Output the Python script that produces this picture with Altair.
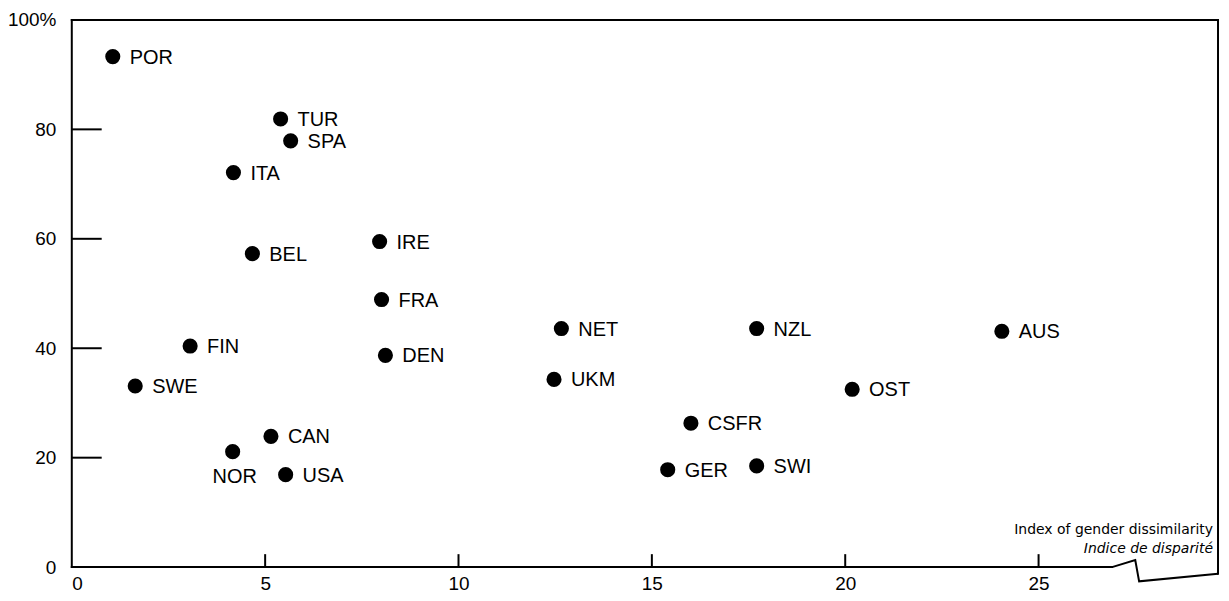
import altair as alt
import pandas as pd

countries = ["POR", "TUR", "SPA", "ITA", "BEL", "IRE", "FRA", "DEN", "NET", "UKM",
             "NZL", "AUS", "OST", "CSFR", "GER", "SWI", "FIN", "SWE", "CAN", "NOR", "USA"]
dissimilarity = [1.06, 5.40, 5.66, 4.18, 4.67, 7.96, 8.01, 8.11, 12.66, 12.47,
                 17.71, 24.05, 20.18, 16.01, 15.41, 17.71, 3.06, 1.64, 5.15, 4.16, 5.53]
share = [93.3, 81.9, 77.9, 72.1, 57.3, 59.5, 48.9, 38.7, 43.6, 34.3,
         43.6, 43.1, 32.5, 26.3, 17.8, 18.5, 40.4, 33.1, 23.9, 21.1, 16.9]
label_below = ["NOR"]
x_ticks = [5, 10, 15, 20, 25]
y_ticks = [20, 40, 60, 80]
x_max = 29.64
y_max = 100
# axis break (zigzag) near the right end of the x axis, in data units
break_x = [26.9, 27.5, 27.6, 29.64]
break_y = [0, 1.3, -2.6, -1.2]
title_en = "Index of gender dissimilarity"
title_fr = "Indice de disparité"

FONT = "Liberation Sans"
TFONT = "DejaVu Sans"

W, H = 1150, 549

df = pd.DataFrame({"country": countries, "x": dissimilarity, "y": share})
df["below"] = df["country"].isin(label_below)

xs = alt.Scale(domain=[0, x_max], nice=False, zero=True)
ys = alt.Scale(domain=[0, y_max], nice=False)

base = alt.Chart(df)

points = base.mark_circle(size=230, color="black", opacity=1).encode(
    x=alt.X("x:Q", scale=xs,
            axis=alt.Axis(values=[0] + x_ticks, title=None, domain=False, ticks=False,
                          grid=False, labelFont=FONT, labelFontSize=19, labelPadding=7,
                          labelColor="black")),
    y=alt.Y("y:Q", scale=ys,
            axis=alt.Axis(values=[0] + y_ticks + [y_max], title=None, domain=False, ticks=False,
                          grid=False, labelFont=FONT, labelFontSize=19, labelPadding=16,
                          labelColor="black",
                          labelExpr="datum.value == 100 ? '100%' : datum.label")),
)

labels_right = base.transform_filter("!datum.below").mark_text(
    align="left", baseline="middle", dx=17, dy=1, font=FONT, fontSize=20, color="black"
).encode(x=alt.X("x:Q", scale=xs), y=alt.Y("y:Q", scale=ys), text="country:N")

labels_below = base.transform_filter("datum.below").mark_text(
    align="center", baseline="middle", dx=2, dy=25, font=FONT, fontSize=20, color="black"
).encode(x=alt.X("x:Q", scale=xs), y=alt.Y("y:Q", scale=ys), text="country:N")

yt = alt.Chart(pd.DataFrame({"v": y_ticks})).mark_rule(color="black", strokeWidth=2).encode(
    y=alt.Y("v:Q", scale=ys), x=alt.value(0), x2=alt.value(30))

xt = alt.Chart(pd.DataFrame({"v": x_ticks})).mark_rule(color="black", strokeWidth=2).encode(
    x=alt.X("v:Q", scale=xs), y=alt.value(H - 13), y2=alt.value(H))

frame_df = pd.DataFrame({
    "x":  [0, 0, x_max, 0],
    "x2": [0, x_max, x_max, break_x[0]],
    "y":  [0, y_max, y_max, 0],
    "y2": [y_max, y_max, break_y[-1], 0],
})
frame = alt.Chart(frame_df).mark_rule(color="black", strokeWidth=2, strokeCap="square").encode(
    x=alt.X("x:Q", scale=xs), x2="x2:Q", y=alt.Y("y:Q", scale=ys), y2="y2:Q")

brk_df = pd.DataFrame({"i": list(range(len(break_x))), "x": break_x, "y": break_y})
brk = alt.Chart(brk_df).mark_line(color="black", strokeWidth=2, strokeJoin="miter").encode(
    x=alt.X("x:Q", scale=xs), y=alt.Y("y:Q", scale=ys), order="i:Q")

t1 = alt.Chart(pd.DataFrame({"t": [title_en]})).mark_text(
    align="right", baseline="middle", font=TFONT, fontSize=14, color="black"
).encode(x=alt.value(1145), y=alt.value(H - 37), text="t:N")

t2 = alt.Chart(pd.DataFrame({"t": [title_fr]})).mark_text(
    align="right", baseline="middle", font=TFONT, fontSize=14, fontStyle="italic", color="black"
).encode(x=alt.value(1145), y=alt.value(H - 18), text="t:N")

chart = alt.layer(frame, brk, yt, xt, points, labels_right, labels_below, t1, t2).properties(
    width=W, height=H,
    background="white",
    autosize=alt.AutoSizeParams(type="none"),
    padding={"left": 64, "top": 11, "right": 3, "bottom": 25},
).configure_view(stroke=None)

chart.save("out.html", embed_options={"renderer": "svg", "actions": False})
